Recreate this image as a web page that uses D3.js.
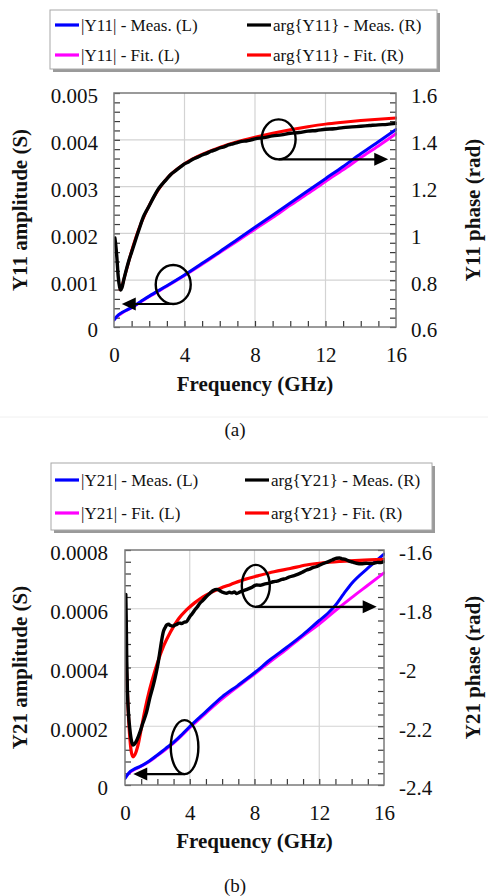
<!DOCTYPE html>
<html><head><meta charset="utf-8">
<script src="https://cdn.jsdelivr.net/npm/d3@7"></script>
<style>
html,body{margin:0;padding:0;background:#fff;}
svg{display:block;}
svg text{font-family:"Liberation Serif","DejaVu Serif","Times New Roman",serif !important;}
</style></head><body>
<svg id="fig" width="488" height="896"></svg>
<script>
// ---------- Panel (a): Y11 ----------
const y11AmpFreq = [0, 0.25, 0.5, 1, 1.5, 2, 3, 4, 5, 6, 7, 8, 9, 10, 11, 12, 13, 14, 15, 16];
const y11AmpMeas = [0.00015, 0.00026, 0.00032, 0.00042, 0.00054, 0.00066, 0.00088, 0.00111, 0.00136, 0.00161,
  0.00187, 0.00213, 0.00239, 0.00265, 0.00291, 0.00317, 0.00343, 0.0037, 0.00396, 0.00422];
const y11AmpFit = [0.00016, 0.00025, 0.00031, 0.00041, 0.00053, 0.00065, 0.00087, 0.0011, 0.00134, 0.00159,
  0.00184, 0.00209, 0.00234, 0.0026, 0.00285, 0.00311, 0.00336, 0.00362, 0.00387, 0.00413];

const y11PhaseMeasFreq = [0.05, 0.1, 0.16, 0.24, 0.32, 0.38, 0.45, 0.55, 0.7, 0.85, 1.0, 1.15, 1.3, 1.5, 1.66, 1.85,
  2.0, 2.25, 2.5, 2.75, 3.0, 3.25, 3.5, 3.75, 4.0, 4.25, 4.5, 4.75, 5.0, 5.25, 5.5, 5.75, 6.0, 6.25, 6.5, 6.75,
  7.0, 7.25, 7.5, 7.75, 8.0, 8.5, 9.0, 9.5, 10.0, 10.5, 11.0, 11.5, 12.0, 12.5, 13.0, 13.5, 14.0, 14.5, 15.0, 15.5, 16.0];
const y11PhaseMeas = [0.98, 0.95, 0.9, 0.815, 0.77, 0.758, 0.768, 0.8, 0.845, 0.885, 0.92, 0.955, 0.99, 1.035, 1.07, 1.098,
  1.118, 1.155, 1.188, 1.212, 1.233, 1.254, 1.268, 1.283, 1.297, 1.306, 1.318, 1.326, 1.335, 1.342, 1.351, 1.357,
  1.365, 1.37, 1.378, 1.383, 1.388, 1.393, 1.395, 1.399, 1.404, 1.409, 1.417, 1.421, 1.428, 1.431, 1.437, 1.44,
  1.445, 1.447, 1.452, 1.455, 1.458, 1.461, 1.464, 1.466, 1.47];
const y11PhaseFitFreq = [0.35, 0.45, 0.6, 0.8, 1, 1.25, 1.5, 1.75, 2, 2.5, 3, 3.5, 4, 5, 6, 7, 8, 9, 10, 11, 12, 13, 14, 15, 16];
const y11PhaseFit = [0.76, 0.775, 0.815, 0.87, 0.925, 0.985, 1.037, 1.08, 1.12, 1.185, 1.235, 1.27, 1.298, 1.338, 1.368,
  1.392, 1.411, 1.428, 1.443, 1.456, 1.467, 1.475, 1.482, 1.488, 1.493];

// ---------- Panel (b): Y21 ----------
const y21AmpMeasFreq = [0, 0.25, 0.5, 1, 1.5, 2, 2.5, 3, 3.5, 4, 5, 6, 7, 8, 9, 10, 11, 12, 12.5, 13, 13.5, 14, 15, 16];
const y21AmpMeas = [0.000022, 0.000042, 0.000052, 0.000065, 0.000082, 0.000102, 0.000124, 0.000145, 0.000171, 0.000199,
  0.00025, 0.0003, 0.00034, 0.000382, 0.000428, 0.000469, 0.000512, 0.00056, 0.000583, 0.000612, 0.00065, 0.000686,
  0.000738, 0.000786];
const y21AmpFitFreq = [0, 0.25, 0.5, 1, 1.5, 2, 3, 4, 5, 6, 7, 8, 9, 10, 11, 12, 13, 14, 15, 16];
const y21AmpFit = [0.000025, 0.00004, 0.00005, 0.000064, 0.00008, 0.0001, 0.000143, 0.000195, 0.000245, 0.000293,
  0.000336, 0.000378, 0.000421, 0.000463, 0.000507, 0.000548, 0.000594, 0.000638, 0.00068, 0.000722];

const y21PhaseMeasFreq = [0.05, 0.08, 0.11, 0.15, 0.22, 0.3, 0.4, 0.5, 0.6, 0.75, 0.93, 1.1, 1.34, 1.55, 1.75, 2.06, 2.2,
  2.37, 2.5, 2.57, 2.7, 2.8, 2.98, 3.1, 3.2, 3.35, 3.5, 3.65, 3.8, 4.0, 4.15, 4.3, 4.45, 4.63, 4.8, 5.0, 5.25, 5.45,
  5.66, 5.8, 5.9, 6.1, 6.28, 6.45, 6.6, 6.75, 6.9, 7.1, 7.3, 7.5, 7.8, 8.13, 8.35, 8.6, 8.9, 9.16, 9.4, 9.7, 9.95,
  10.19, 10.45, 10.7, 10.95, 11.22, 11.4, 11.6, 11.8, 12.04, 12.25, 12.5, 12.8, 13.07, 13.25, 13.4, 13.55, 13.7,
  13.85, 14.0, 14.15, 14.3, 14.6, 14.9, 15.1, 15.3, 15.6, 15.8, 15.96];
const y21PhaseMeas = [-1.751, -1.85, -1.98, -2.08, -2.16, -2.21, -2.25, -2.264, -2.26, -2.245, -2.219, -2.19, -2.15,
  -2.1, -2.06, -1.98, -1.93, -1.878, -1.862, -1.855, -1.853, -1.857, -1.859, -1.855, -1.853, -1.849, -1.85, -1.846,
  -1.844, -1.827, -1.817, -1.805, -1.795, -1.781, -1.772, -1.76, -1.747, -1.738, -1.734, -1.736, -1.74, -1.745,
  -1.747, -1.744, -1.746, -1.743, -1.748, -1.743, -1.739, -1.735, -1.728, -1.719, -1.72, -1.716, -1.713, -1.708,
  -1.706, -1.7, -1.697, -1.691, -1.687, -1.682, -1.676, -1.668, -1.665, -1.66, -1.657, -1.651, -1.646, -1.641,
  -1.634, -1.628, -1.627, -1.63, -1.631, -1.634, -1.638, -1.64, -1.643, -1.645, -1.647, -1.645, -1.646, -1.646,
  -1.642, -1.643, -1.64];
const y21PhaseFitFreq = [0, 0.1, 0.2, 0.3, 0.4, 0.5, 0.6, 0.8, 1.0, 1.25, 1.5, 1.75, 2.0, 2.4, 2.8, 3.3, 3.8, 4.3, 4.8,
  5.3, 5.9, 6.5, 7.4, 8.2, 9.2, 10.2, 11.2, 12.2, 13.3, 14.5, 16];
const y21PhaseFit = [-1.9, -2.02, -2.15, -2.24, -2.29, -2.304, -2.298, -2.265, -2.21, -2.14, -2.08, -2.03, -1.985,
  -1.925, -1.88, -1.835, -1.804, -1.78, -1.76, -1.745, -1.73, -1.718, -1.7, -1.688, -1.674, -1.663, -1.651, -1.644,
  -1.639, -1.635, -1.632];

// ---------- Axis ticks ----------
const freqTicks = [0, 4, 8, 12, 16];
const y11AmpTicks = [0, 0.001, 0.002, 0.003, 0.004, 0.005];
const y11AmpTickLabels = ["0", "0.001", "0.002", "0.003", "0.004", "0.005"];
const y11PhaseTicks = [0.6, 0.8, 1.0, 1.2, 1.4, 1.6];
const y11PhaseTickLabels = ["0.6", "0.8", "1", "1.2", "1.4", "1.6"];
const y21AmpTicks = [0, 0.0002, 0.0004, 0.0006, 0.0008];
const y21AmpTickLabels = ["0", "0.0002", "0.0004", "0.0006", "0.0008"];
const y21PhaseTicks = [-2.4, -2.2, -2.0, -1.8, -1.6];
const y21PhaseTickLabels = ["-2.4", "-2.2", "-2", "-1.8", "-1.6"];

const COL = {meas: "#0000ff", fit: "#ff00ff", phMeas: "#000000", phFit: "#ff0000"};
const SERIF = "'Liberation Serif','DejaVu Serif','Times New Roman',serif";

const svg = d3.select("#fig");
svg.append("rect").attr("width", 488).attr("height", 896).attr("fill", "#fff");
// faint separator between the two figures
svg.append("line").attr("x1", 0).attr("x2", 488).attr("y1", 417).attr("y2", 417)
  .attr("stroke", "#f0f0f0").attr("stroke-width", 1);

function zip(f, v) { return f.map((d, i) => [d, v[i]]); }

function drawPanel(p) {
  const x = d3.scaleLinear().domain([0, 16]).range([p.l, p.r]);
  const yL = d3.scaleLinear().domain(p.yLDomain).range([p.b, p.t]);
  const yR = d3.scaleLinear().domain(p.yRDomain).range([p.b, p.t]);
  const w = p.r - p.l, h = p.b - p.t;
  const g = svg.append("g");

  // grid
  const grid = g.append("g").attr("stroke", "#d3d3d3").attr("stroke-width", 1.2);
  grid.selectAll(".gx").data(freqTicks.slice(1, -1)).join("line")
    .attr("x1", d => x(d)).attr("x2", d => x(d)).attr("y1", p.t).attr("y2", p.b);
  grid.selectAll(".gy").data(p.yLTicks.slice(1, -1)).join("line")
    .attr("x1", p.l).attr("x2", p.r).attr("y1", d => yL(d)).attr("y2", d => yL(d));

  // minor tick marks (inward)
  const tickStyle = s => s.call(s => s.select(".domain").remove())
    .call(s => s.selectAll("line").attr("stroke", "#3a3a3a").attr("stroke-width", 1.2))
    .call(s => s.selectAll("text").remove());
  g.append("g").attr("transform", `translate(0,${p.b})`)
    .call(d3.axisBottom(x).tickValues(d3.range(1, 16)).tickSize(-6)).call(tickStyle);
  g.append("g").attr("transform", `translate(${p.l},0)`)
    .call(d3.axisLeft(yL).tickValues(p.yLMinor).tickSize(-6)).call(tickStyle);
  g.append("g").attr("transform", `translate(${p.r},0)`)
    .call(d3.axisRight(yR).tickValues(p.yRMinor).tickSize(-6)).call(tickStyle);

  // series
  const clip = "clip" + p.id;
  svg.append("clipPath").attr("id", clip).append("rect")
    .attr("x", p.l).attr("y", p.t - 2).attr("width", w + 1).attr("height", h + 2);
  const sg = g.append("g").attr("clip-path", `url(#${clip})`);
  p.series.forEach(s => {
    const ys = s.axis === "L" ? yL : yR;
    sg.append("path").datum(zip(s.f, s.v))
      .attr("d", d3.line().x(d => x(d[0])).y(d => ys(d[1])).curve(d3.curveMonotoneX))
      .attr("fill", "none").attr("stroke", s.color).attr("stroke-width", s.width)
      .attr("stroke-linejoin", "round").attr("stroke-linecap", "round");
  });

  // frame
  g.append("rect").attr("x", p.l).attr("y", p.t).attr("width", w).attr("height", h)
    .attr("fill", "none").attr("stroke", "#7a7a7a").attr("stroke-width", 1.5);

  // tick labels
  const labStyle = s => s.attr("font-family", SERIF).attr("font-size", 21)
    .call(s => s.select(".domain").remove())
    .call(s => s.selectAll("line").remove())
    .call(s => s.selectAll("text").attr("fill", "#111"));
  g.append("g").attr("transform", `translate(0,${p.b})`)
    .call(d3.axisBottom(x).tickValues(freqTicks).tickFormat(d3.format("d")).tickSize(0).tickPadding(p.xPad))
    .call(labStyle);
  g.append("g").attr("transform", `translate(${p.l},0)`)
    .call(d3.axisLeft(yL).tickValues(p.yLTicks).tickFormat((d, i) => p.yLLabels[i]).tickSize(0).tickPadding(p.lPad))
    .call(labStyle).call(s => s.selectAll("text").attr("dy", "0.47em"));
  g.append("g").attr("transform", `translate(${p.r},0)`)
    .call(d3.axisRight(yR).tickValues(p.yRTicks).tickFormat((d, i) => p.yRLabels[i]).tickSize(0).tickPadding(p.rPad))
    .call(labStyle).call(s => s.selectAll("text").attr("dy", "0.47em"));

  // axis titles
  const tt = g.append("g").attr("font-family", SERIF).attr("font-weight", "bold").attr("font-size", 21)
    .attr("fill", "#111").attr("text-anchor", "middle");
  tt.append("text").attr("x", (p.l + p.r) / 2 + p.xTitleDx).attr("y", p.xTitleY).text("Frequency (GHz)");
  tt.append("text").attr("transform", `translate(${p.lTitleX},${(p.t + p.b) / 2}) rotate(-90)`).text(p.lTitle);
  tt.append("text").attr("transform", `translate(${p.rTitleX},${(p.t + p.b) / 2}) rotate(-90)`).text(p.rTitle);

  // caption
  g.append("text").attr("x", p.capX).attr("y", p.capY).attr("text-anchor", "middle")
    .attr("font-family", SERIF).attr("font-size", 19).attr("fill", "#111").text(p.caption);

  // annotation ellipses with arrows pointing to the relevant axis
  p.notes.forEach(n => {
    const ys = n.axis === "L" ? yL : yR;
    const cx = x(n.f), cy = ys(n.v);
    g.append("ellipse").attr("cx", cx).attr("cy", cy).attr("rx", n.rx).attr("ry", n.ry)
      .attr("fill", "none").attr("stroke", "#000").attr("stroke-width", 2.4);
    const ay = cy + n.ry, tip = x(n.tipF), dir = Math.sign(tip - cx);
    g.append("line").attr("x1", cx).attr("x2", tip - dir * 10).attr("y1", ay).attr("y2", ay)
      .attr("stroke", "#000").attr("stroke-width", 2.2);
    g.append("path").attr("d", `M${tip},${ay} L${tip - dir * 14},${ay - 6.5} L${tip - dir * 14},${ay + 6.5} Z`)
      .attr("fill", "#000");
  });

  // legend
  const L = p.legend;
  const lg = svg.append("g").attr("font-family", SERIF);
  lg.append("rect").attr("x", L.x + 3).attr("y", L.y + 3).attr("width", L.w).attr("height", L.h)
    .attr("fill", "#9a9a9a");
  lg.append("rect").attr("x", L.x).attr("y", L.y).attr("width", L.w).attr("height", L.h)
    .attr("fill", "#fff").attr("stroke", "#a8a8a8").attr("stroke-width", 1);
  L.items.forEach((it, i) => {
    const lx = L.x + L.cols[i % 2], ly = L.y + L.rows[Math.floor(i / 2)];
    lg.append("line").attr("x1", lx).attr("x2", lx + L.len).attr("y1", ly).attr("y2", ly)
      .attr("stroke", it.color).attr("stroke-width", 3.2);
    lg.append("text").attr("x", lx + L.len + 2).attr("y", ly).attr("dy", "0.34em")
      .attr("font-size", 17).attr("fill", "#111").text(it.label);
  });
}

const minorRange = (a, b, s) => d3.range(0, Math.round((b - a) / s) + 1).map(i => a + i * s);

drawPanel({
  id: "a", l: 114, r: 396, t: 93, b: 327,
  yLDomain: [0, 0.005], yRDomain: [0.6, 1.6],
  yLTicks: y11AmpTicks, yLLabels: y11AmpTickLabels, yRTicks: y11PhaseTicks, yRLabels: y11PhaseTickLabels,
  yLMinor: minorRange(0, 0.005, 0.0002), yRMinor: minorRange(0.6, 1.6, 0.04),
  xPad: 20, lPad: 16, rPad: 15, xTitleY: 391, xTitleDx: 0,
  lTitle: "Y11 amplitude (S)", rTitle: "Y11 phase (rad)", lTitleX: 27, rTitleX: 480,
  caption: "(a)", capX: 235, capY: 436,
  series: [
    {f: y11AmpFreq, v: y11AmpFit, axis: "L", color: COL.fit, width: 3},
    {f: y11AmpFreq, v: y11AmpMeas, axis: "L", color: COL.meas, width: 3},
    {f: y11PhaseFitFreq, v: y11PhaseFit, axis: "R", color: COL.phFit, width: 3},
    {f: y11PhaseMeasFreq, v: y11PhaseMeas, axis: "R", color: COL.phMeas, width: 3.4}
  ],
  notes: [
    {f: 9.34, v: 1.402, axis: "R", rx: 17, ry: 20, tipF: 15.56},
    {f: 3.36, v: 0.000908, axis: "L", rx: 17.5, ry: 19.5, tipF: 0.44}
  ],
  legend: {x: 50, y: 10, w: 387, h: 59, cols: [5, 197], rows: [15, 45], len: 24,
    items: [
      {label: "|Y11| - Meas. (L)", color: COL.meas},
      {label: "arg{Y11} - Meas. (R)", color: COL.phMeas},
      {label: "|Y11| - Fit. (L)", color: COL.fit},
      {label: "arg{Y11} - Fit. (R)", color: COL.phFit}
    ]}
});

drawPanel({
  id: "b", l: 125, r: 384, t: 550, b: 785,
  yLDomain: [0, 0.0008], yRDomain: [-2.4, -1.6],
  yLTicks: y21AmpTicks, yLLabels: y21AmpTickLabels, yRTicks: y21PhaseTicks, yRLabels: y21PhaseTickLabels,
  yLMinor: minorRange(0, 0.0008, 0.00004), yRMinor: minorRange(-2.4, -1.6, 0.04),
  xPad: 20, lPad: 17, rPad: 15, xTitleY: 848, xTitleDx: 0,
  lTitle: "Y21 amplitude (S)", rTitle: "Y21 phase (rad)", lTitleX: 27, rTitleX: 480,
  caption: "(b)", capX: 235, capY: 892,
  series: [
    {f: y21AmpFitFreq, v: y21AmpFit, axis: "L", color: COL.fit, width: 3},
    {f: y21AmpMeasFreq, v: y21AmpMeas, axis: "L", color: COL.meas, width: 3},
    {f: y21PhaseFitFreq, v: y21PhaseFit, axis: "R", color: COL.phFit, width: 3.2},
    {f: y21PhaseMeasFreq, v: y21PhaseMeas, axis: "R", color: COL.phMeas, width: 3.4}
  ],
  notes: [
    {f: 8.08, v: -1.722, axis: "R", rx: 14, ry: 21, tipF: 15.55},
    {f: 3.68, v: 0.000129, axis: "L", rx: 13.8, ry: 27, tipF: 0.51}
  ],
  legend: {x: 51, y: 463, w: 381, h: 67, cols: [4, 194], rows: [17, 50], len: 24,
    items: [
      {label: "|Y21| - Meas. (L)", color: COL.meas},
      {label: "arg{Y21} - Meas. (R)", color: COL.phMeas},
      {label: "|Y21| - Fit. (L)", color: COL.fit},
      {label: "arg{Y21} - Fit. (R)", color: COL.phFit}
    ]}
});
</script>
</body></html>
